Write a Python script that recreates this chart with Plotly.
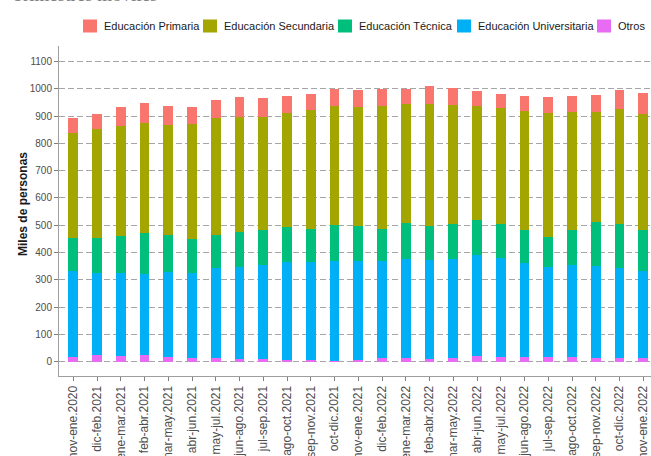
import plotly.graph_objects as go

categorias = [
    "nov-ene.2020", "dic-feb.2021", "ene-mar.2021", "feb-abr.2021", "mar-may.2021",
    "abr-jun.2021", "may-jul.2021", "jun-ago.2021", "jul-sep.2021", "ago-oct.2021",
    "sep-nov.2021", "oct-dic.2021", "nov-ene.2021", "dic-feb.2022", "ene-mar.2022",
    "feb-abr.2022", "mar-may.2022", "abr-jun.2022", "may-jul.2022", "jun-ago.2022",
    "jul-sep.2022", "ago-oct.2022", "sep-nov.2022", "oct-dic.2022", "nov-ene.2022",
]
otros = [16, 26, 21, 24, 18, 15, 12, 10, 9, 6, 5, 4, 7, 12, 13, 11, 13, 20, 18, 17, 17, 17, 15, 15, 15]
universitaria = [315, 299, 305, 298, 312, 310, 332, 338, 346, 358, 361, 365, 361, 356, 362, 363, 363, 371, 363, 345, 330, 337, 336, 329, 317]
tecnica = [123, 129, 136, 149, 135, 125, 119, 127, 129, 129, 121, 131, 129, 119, 133, 124, 128, 129, 123, 122, 111, 130, 162, 160, 151]
secundaria = [382, 398, 400, 404, 403, 420, 428, 423, 412, 418, 435, 437, 437, 450, 437, 447, 436, 417, 426, 434, 453, 432, 400, 422, 423]
primaria = [56, 56, 70, 73, 69, 64, 66, 73, 69, 63, 59, 63, 60, 62, 55, 66, 63, 56, 52, 57, 59, 59, 64, 69, 78]

y_ticks = [0, 100, 200, 300, 400, 500, 600, 700, 800, 900, 1000, 1100]

series = [
    ("Otros", otros, "#E76BF3"),
    ("Educación Universitaria", universitaria, "#00B0F6"),
    ("Educación Técnica", tecnica, "#00BF7D"),
    ("Educación Secundaria", secundaria, "#A3A500"),
    ("Educación Primaria", primaria, "#F8766D"),
]

W, H = 651, 456
L, R, T, B = 59, 0, 46, 80
PW = W - L - R
PH = H - T - B
FONT = "Liberation Sans, Arial, sans-serif"

fig = go.Figure()
for name, vals, col in series:
    fig.add_bar(x=categorias, y=vals, name=name, width=0.42,
                marker=dict(color=col, line=dict(width=0)), showlegend=False)

# manual legend (layout decoration)
legend_items = [
    ("Educación Primaria", "#F8766D", 83),
    ("Educación Secundaria", "#A3A500", 203),
    ("Educación Técnica", "#00BF7D", 338),
    ("Educación Universitaria", "#00B0F6", 457),
    ("Otros", "#E76BF3", 597),
]
def px2x(px):
    return (px - L) / PW
def px2y(py):
    return (H - B - py) / PH

shapes = []
annotations = []
for name, col, x0 in legend_items:
    shapes.append(dict(type="rect", xref="paper", yref="paper",
                       x0=px2x(x0), x1=px2x(x0 + 14), y0=px2y(32.5), y1=px2y(19.5),
                       fillcolor=col, line=dict(width=0)))
    annotations.append(dict(text=name, xref="paper", yref="paper", x=px2x(x0 + 19),
                            y=px2y(26), xanchor="left", yanchor="middle", showarrow=False,
                            font=dict(family=FONT, size=11, color="#1a1a1a")))

annotations.append(dict(text="Trimestres móviles", xref="paper", yref="paper",
                        x=px2x(10), y=1, xanchor="left", yanchor="bottom", yshift=39,
                        showarrow=False,
                        font=dict(family="Liberation Serif, serif", size=19, color="#7f7f7f")))

# y-axis title as rotated annotation
annotations.append(dict(text="<b>Miles de personas</b>", xref="paper", yref="paper",
                        x=px2x(23), y=px2y(204), xanchor="center", yanchor="middle",
                        textangle=-90, showarrow=False,
                        font=dict(family=FONT, size=12, color="#1a1a1a")))

fig.update_layout(
    template="none",
    width=W, height=H,
    margin=dict(l=L, r=R, t=T, b=B, pad=0),
    barmode="stack",
    paper_bgcolor="white", plot_bgcolor="white",
    shapes=shapes, annotations=annotations,
    showlegend=False,
    font=dict(family=FONT),
)
fig.update_xaxes(
    type="category", range=[-0.6, -0.6 + PW / 23.75], automargin=False,
    showgrid=False, zeroline=False,
    showline=True, linecolor="#9e9e9e", linewidth=1,
    ticks="outside", ticklen=4, tickcolor="#7f7f7f", tickwidth=1,
    tickangle=-90, tickfont=dict(family=FONT, size=12, color="#4d4d4d"),
)
fig.update_yaxes(
    range=[-52.4, 1156.4], automargin=False,
    tickvals=y_ticks, ticktext=[str(v) for v in y_ticks],
    showgrid=True, gridcolor="#a6a6a6", gridwidth=1, griddash="6px,3px",
    zeroline=False,
    showline=True, linecolor="#9e9e9e", linewidth=1,
    ticks="outside", ticklen=4, tickcolor="#7f7f7f", tickwidth=1,
    tickfont=dict(family=FONT, size=10, color="#4d4d4d"),
)

fig.write_html(
    "out.html",
    config={"displayModeBar": False},
    post_script="document.body.style.margin='0';document.body.style.overflow='hidden';",
)
